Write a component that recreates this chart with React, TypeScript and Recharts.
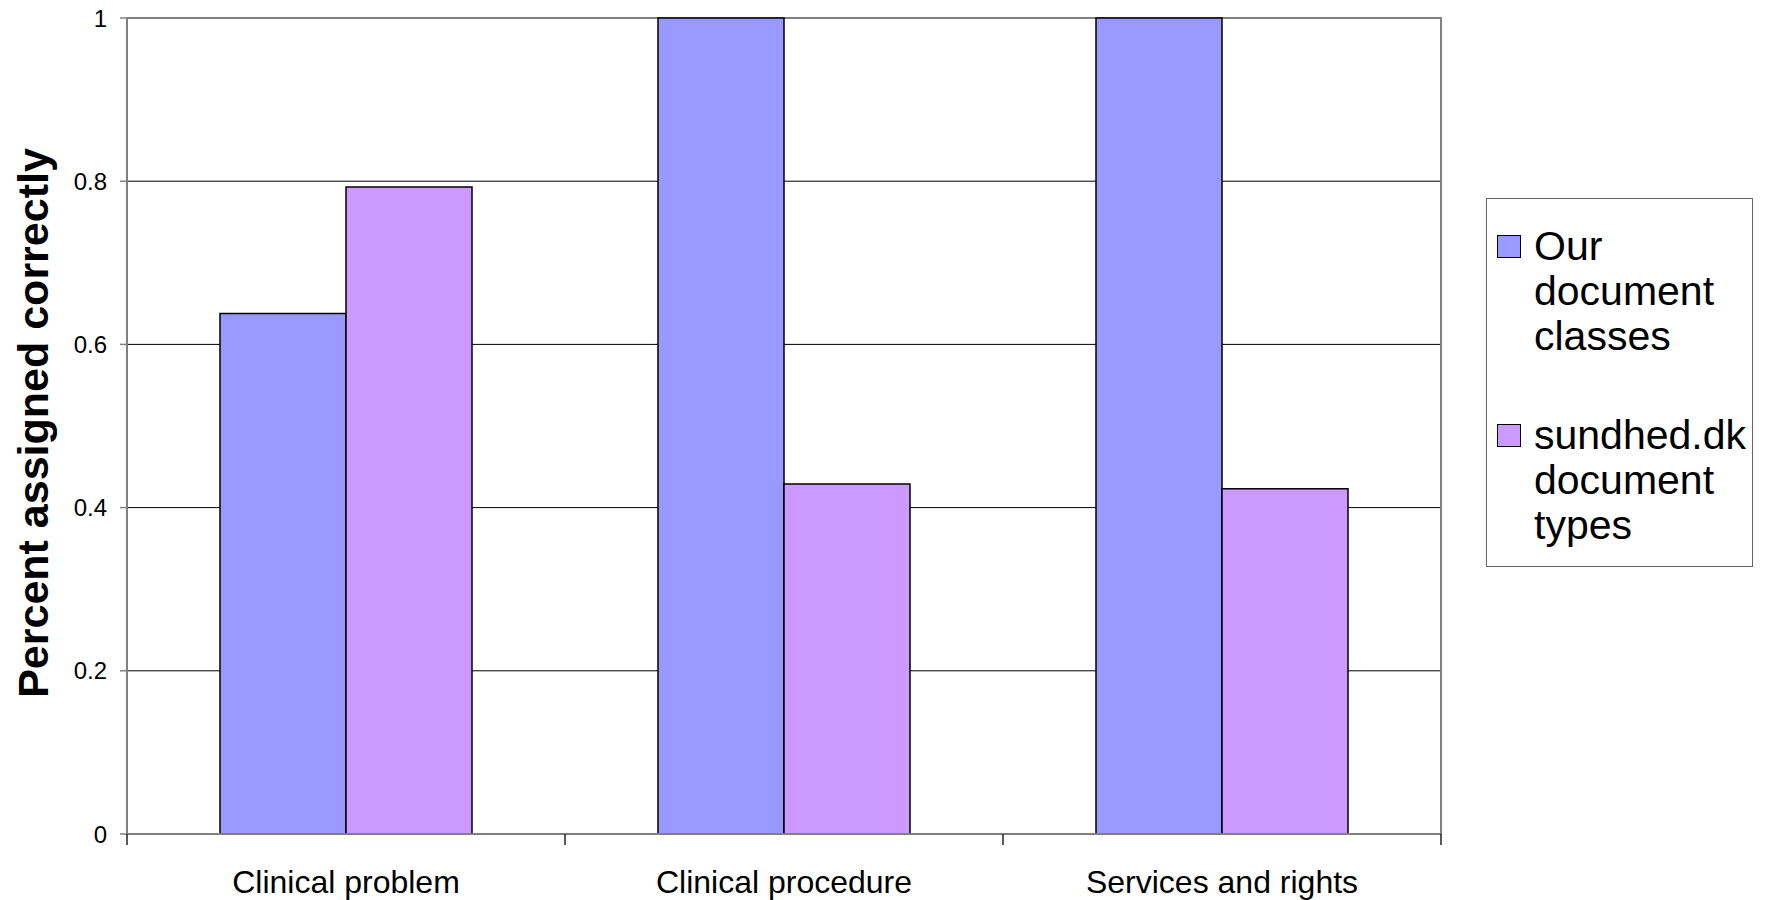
import React from 'react'
import {
  BarChart,
  Bar,
  XAxis,
  YAxis,
  CartesianGrid,
  ReferenceArea,
} from 'recharts'

const categories = ['Clinical problem', 'Clinical procedure', 'Services and rights']
const ourClasses = [0.638, 1, 1]
const sundhedTypes = [0.793, 0.429, 0.423]
const yTicks = [0, 0.2, 0.4, 0.6, 0.8, 1]

const seriesNames = ['Our document classes', 'sundhed.dk document types']
const seriesColors = ['#9999FF', '#CC99FF']

const data = categories.map((c, i) => ({
  name: c,
  ours: ourClasses[i],
  sundhed: sundhedTypes[i],
}))

const W = 1765
const H = 900
const M = { top: 18, right: 324, left: 0, bottom: 0 }
const Y_W = 127
const X_H = 66
const PLOT_W = W - M.left - M.right - Y_W
const BAND = PLOT_W / categories.length

if (typeof document !== 'undefined') document.body.style.margin = '0'

const FONT = '"Liberation Sans", Arial, sans-serif'

function CategoryTick({ x, y, payload, index }: any) {
  const left = x - BAND / 2
  return (
    <g>
      <line x1={left} x2={left} y1={y} y2={y + 11} stroke="#222" strokeWidth={1.5} />
      {index === categories.length - 1 && (
        <line x1={left + BAND} x2={left + BAND} y1={y} y2={y + 11} stroke="#222" strokeWidth={1.5} />
      )}
      <text x={x} y={y + 59} textAnchor="middle" fontSize={32} fontFamily={FONT} fill="#000">
        {payload.value}
      </text>
    </g>
  )
}

function YLabel({ viewBox }: any) {
  const cy = viewBox.y + viewBox.height / 2 - 3
  return (
    <text
      x={48}
      y={cy}
      transform={`rotate(-90, 48, ${cy})`}
      textAnchor="middle"
      fontSize={43}
      fontWeight="bold"
      fontFamily={FONT}
      fill="#000"
    >
      Percent assigned correctly
    </text>
  )
}

export default function App() {
  return (
    <div style={{ position: 'relative', width: W, height: H, background: '#fff' }}>
      <BarChart width={W} height={H} data={data} margin={M} barGap={0} barSize={126}>
        <CartesianGrid vertical={false} stroke="#000" strokeWidth={1} />
        <ReferenceArea y1={0} y2={1} fill="none" stroke="#808080" strokeWidth={2} ifOverflow="visible" />
        <XAxis
          dataKey="name"
          height={X_H}
          axisLine={{ stroke: '#808080', strokeWidth: 2 }}
          tickLine={false}
          tickSize={0}
          tickMargin={0}
          tick={<CategoryTick />}
          interval={0}
        />
        <YAxis
          width={Y_W}
          domain={[0, 1]}
          ticks={yTicks}
          interval={0}
          axisLine={{ stroke: '#808080', strokeWidth: 2 }}
          tickLine={{ stroke: '#808080', strokeWidth: 1.5 }}
          tickSize={7}
          tickMargin={13}
          tick={{ fontSize: 24, fill: '#000', fontFamily: FONT }}
          tickFormatter={(v) => String(v)}
          label={<YLabel />}
        />
        <Bar dataKey="ours" name={seriesNames[0]} fill={seriesColors[0]} stroke="#000" strokeWidth={1.5} isAnimationActive={false} />
        <Bar dataKey="sundhed" name={seriesNames[1]} fill={seriesColors[1]} stroke="#000" strokeWidth={1.5} isAnimationActive={false} />
      </BarChart>
      <div
        style={{
          position: 'absolute',
          left: 1486,
          top: 198,
          width: 267,
          height: 369,
          boxSizing: 'border-box',
          border: '1.5px solid #666',
          background: '#fff',
          fontFamily: FONT,
        }}
      >
        {seriesNames.map((n, i) => (
          <div
            key={n}
            style={{
              position: 'absolute',
              left: 10,
              top: i === 0 ? 25 : 214,
              display: 'flex',
              alignItems: 'flex-start',
            }}
          >
            <div
              style={{
                width: 24,
                height: 23,
                marginTop: 11,
                boxSizing: 'border-box',
                border: '1.5px solid #000',
                background: seriesColors[i],
                flex: 'none',
              }}
            />
            <div style={{ marginLeft: 13, width: 215, fontSize: 41, lineHeight: '45px', color: '#000' }}>{n}</div>
          </div>
        ))}
      </div>
    </div>
  )
}
